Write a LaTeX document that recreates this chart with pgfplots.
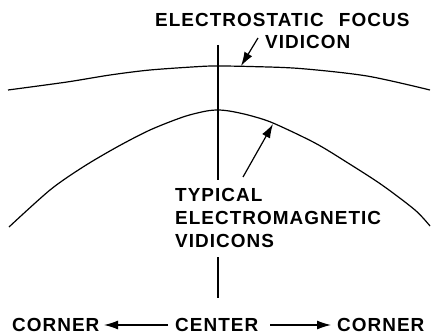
\documentclass[border=0pt]{standalone}
\usepackage{fontspec}
\setmainfont{Liberation Sans}[BoldFont={Liberation Sans Bold}, LetterSpace=5.5]
\usepackage{pgfplots}
\pgfplotsset{compat=1.18}
\usetikzlibrary{arrows.meta}
\tikzset{
  lbl/.style={font=\bfseries\fontsize{19}{21}\selectfont, inner sep=0pt},
  arr/.style={line width=1.2bp, -{Latex[length=14bp,width=9bp]}},
}

\begin{document}
\begin{tikzpicture}
\begin{axis}[
  width=434bp, height=335bp, scale only axis,
  xmin=0, xmax=434, ymin=0, ymax=335,
  y dir=reverse,
  axis lines=none, clip=false,
]
% electrostatic focus vidicon
\addplot[black, line width=1.2bp, smooth] coordinates {
  (8,90) (67,82) (110,75) (150,70) (200,66.5) (218,66) (250,66.5)
  (300,68.5) (367,76) (430,90)
};
% typical electromagnetic vidicons
\addplot[black, line width=1.2bp, smooth] coordinates {
  (9,227) (50,190) (83,167) (117,147) (150,130) (183,117) (205,111.3)
  (218,110) (231,111.3) (250,115.5) (273,123) (315,143) (348,163) (382,185)
  (415,210) (430,226)
};
% center line
\addplot[black, line width=1.2bp] coordinates {(218,45) (218,180)};
\addplot[black, line width=1.2bp] coordinates {(218,257) (218,298)};

\draw[arr] (axis cs:258,38) -- (axis cs:241,66);
\draw[arr] (axis cs:243,177) -- (axis cs:273,124);
\draw[arr] (axis cs:168,325) -- (axis cs:104,325);
\draw[arr] (axis cs:270,325) -- (axis cs:331,325);

\node[lbl, anchor=west] at (axis cs:155,20) {ELECTROSTATIC\hspace{9bp} FOCUS};
\node[lbl, anchor=west] at (axis cs:265,42) {VIDICON};
\node[lbl, anchor=west] at (axis cs:175,195) {TYPICAL};
\node[lbl, anchor=west] at (axis cs:175,217.5) {ELECTROMAGNETIC};
\node[lbl, anchor=west] at (axis cs:175,240.5) {VIDICONS};
\node[lbl, anchor=west] at (axis cs:12,325) {CORNER};
\node[lbl, anchor=west] at (axis cs:175,325) {CENTER};
\node[lbl, anchor=west] at (axis cs:337,325) {CORNER};
\end{axis}
\pgfresetboundingbox
\path (current axis.south west) rectangle (current axis.north east);
\end{tikzpicture}
\end{document}
